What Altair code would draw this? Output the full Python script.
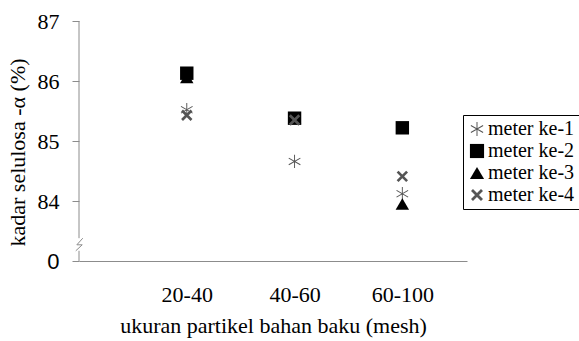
import altair as alt
import pandas as pd

categories = ["20-40", "40-60", "60-100"]
series_names = ["meter ke-1", "meter ke-2", "meter ke-3", "meter ke-4"]
meter1 = [85.52, 84.66, 84.12]
meter2 = [86.13, 85.38, 85.22]
meter3 = [86.06, 85.38, 83.95]
meter4 = [85.43, 85.35, 84.41]
y_ticks = [83, 84, 85, 86, 87]

rows = []
for name, vals in zip(series_names, [meter1, meter2, meter3, meter4]):
    for i, (c, v) in enumerate(zip(categories, vals)):
        rows.append({"series": name, "pos": i + 1, "cat": c, "value": v})
df = pd.DataFrame(rows)

SERIF = "Liberation Serif"
GRAY = "#8c8c8c"

asterisk = ("M-0.07,-1L-0.07,1L0.07,1L0.07,-1Z"
            "M-0.831,-0.561L-0.901,-0.439L0.831,0.561L0.901,0.439Z"
            "M-0.901,0.439L-0.831,0.561L0.901,-0.439L0.831,-0.561Z")
xshape = ("M-0.566,-0.848L-0.848,-0.566L0.566,0.848L0.848,0.566Z"
          "M-0.848,0.566L-0.566,0.848L0.848,-0.566L0.566,-0.848Z")

xscale = alt.Scale(domain=[0, 3.6], nice=False, zero=False)
yscale = alt.Scale(domain=[83, 87], nice=False, zero=False)

label_expr = "datum.value == 1 ? '20-40' : datum.value == 2 ? '40-60' : '60-100'"

legend_props = dict(title=None, orient="none", legendX=384, legendY=94,
                    strokeColor="#000", padding=4, labelFont=SERIF,
                    labelFontSize=20, labelColor="#000", symbolSize=200,
                    rowPadding=2, labelOffset=1, symbolStrokeWidth=0)

points = alt.Chart(df).mark_point(filled=True, opacity=1, size=180).encode(
    x=alt.X("pos:Q", scale=xscale,
            axis=alt.Axis(values=[1, 2, 3], labelExpr=label_expr, ticks=False,
                          grid=False, domainColor=GRAY, labelFont=SERIF,
                          labelFontSize=22, labelColor="#000", labelPadding=23,
                          title="ukuran partikel bahan baku (mesh)", titleFont=SERIF,
                          titleFontSize=22, titleFontWeight="normal",
                          titleColor="#000", titlePadding=10)),
    y=alt.Y("value:Q", scale=yscale,
            axis=alt.Axis(values=y_ticks, grid=False, domain=False, format="d",
                          tickColor=GRAY, tickSize=7,
                          labelExpr="datum.value == 83 ? '0' : datum.label",
                          labelFont={"condition": {"test": "datum.value == 83", "value": "Liberation Sans"}, "value": SERIF},
                          labelFontSize=22, labelColor="#000", labelPadding=13,
                          title="kadar selulosa -α (%)", titleFont=SERIF,
                          titleFontSize=22, titleFontWeight="normal",
                          titleColor="#000", titlePadding=8, titleY=131)),
    shape=alt.Shape("series:N", scale=alt.Scale(domain=series_names,
                                                range=[asterisk, "square", "triangle-up", xshape]),
                    legend=alt.Legend(**legend_props)),
    color=alt.Color("series:N", scale=alt.Scale(domain=series_names,
                                                range=["#555555", "#000000", "#000000", "#555555"]),
                    legend=alt.Legend(**legend_props)),
)

# y axis line with break
axis_df = pd.DataFrame({"x": [0, 0], "y1": [83, 83.38], "y2": [83.17, 87]})
axis_rules = alt.Chart(axis_df).mark_rule(color=GRAY, strokeWidth=1).encode(
    x=alt.X("x:Q", scale=xscale), y=alt.Y("y1:Q", scale=yscale), y2="y2:Q")

zig_df = pd.DataFrame({"o": [0, 1, 2, 3],
                       "x": [-0.03, 0.03, -0.02, 0.035],
                       "y": [83.17, 83.27, 83.27, 83.38]})
zig = alt.Chart(zig_df).mark_line(color=GRAY, strokeWidth=1).encode(
    x=alt.X("x:Q", scale=xscale), y=alt.Y("y:Q", scale=yscale), order="o:Q")

chart = alt.layer(axis_rules, zig, points).properties(
    width=388, height=240, background="white",
    padding={"left": 79, "top": 21, "right": 112, "bottom": 80},
    autosize=alt.AutoSizeParams(type="none"),
).configure(font=SERIF).configure_view(stroke=None).configure_legend(
    labelFont=SERIF).configure_axis(titleFont=SERIF)

chart.save("out.html", embed_options={"renderer": "svg", "actions": False})
